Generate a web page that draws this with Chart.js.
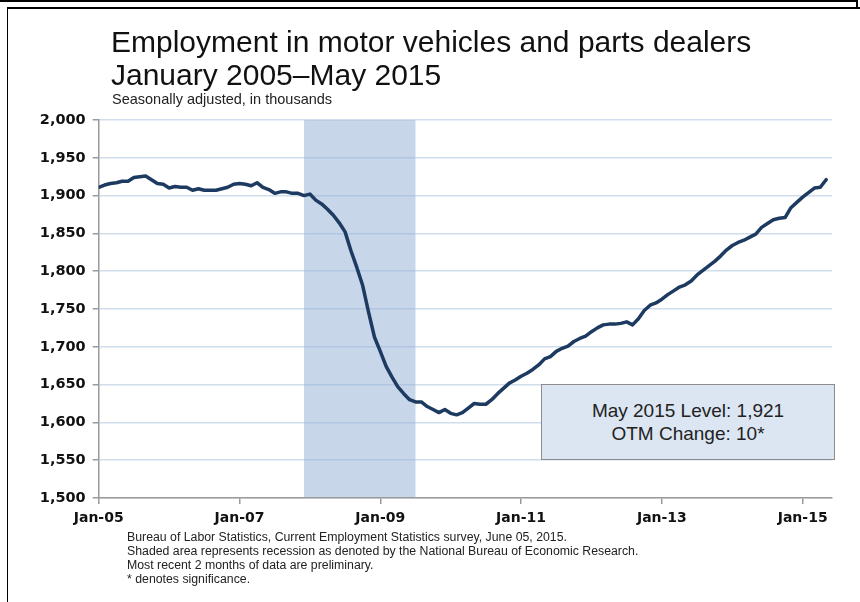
<!DOCTYPE html>
<html>
<head>
<meta charset="utf-8">
<script src="https://cdn.jsdelivr.net/npm/chart.js@4.4.1/dist/chart.umd.min.js"></script>
<style>
  html, body { margin: 0; padding: 0; background: #fff; }
  #wrap { position: relative; width: 860px; height: 602px; overflow: hidden; background: #fff; }
  canvas { position: absolute; left: 0; top: 0; }
  .t { position: absolute; white-space: nowrap; font-family: "Liberation Sans", Arial, sans-serif; color: #111; }
  #title1 { left: 111px; top: 27px; font-size: 30px; line-height: 30px; }
  #title2 { left: 111px; top: 60px; font-size: 30px; line-height: 30px; }
  #sub { left: 112px; top: 92px; font-size: 14.5px; line-height: 15px; color: #222; }
  .fn { left: 127px; font-size: 12.3px; line-height: 14px; color: #222; }
  #box { position: absolute; left: 541px; top: 384px; width: 294px; height: 76px; background: #dce6f2; border: 1px solid #8c8c8c; box-sizing: border-box;
         font-family: "Liberation Sans", Arial, sans-serif; font-size: 19px; color: #222; text-align: center; }
  #box div { position: absolute; left: 0; right: 0; }
  #frameTop1 { position: absolute; left: 0; top: 0; width: 858px; height: 2px; background: #000; }
  #frameTopR { position: absolute; left: 856px; top: 0; width: 2px; height: 8px; background: #000; }
  #frameTop2 { position: absolute; left: 7px; top: 7px; width: 853px; height: 2px; background: #000; }
  #frameLeft { position: absolute; left: 7px; top: 7px; width: 1px; height: 595px; background: #000; }
</style>
</head>
<body>
<div id="wrap">
  <canvas id="c" width="860" height="602"></canvas>
  <div id="frameTop1"></div><div id="frameTopR"></div><div id="frameTop2"></div><div id="frameLeft"></div>
  <div class="t" id="title1">Employment in motor vehicles and parts dealers</div>
  <div class="t" id="title2">January 2005–May 2015</div>
  <div class="t" id="sub">Seasonally adjusted, in thousands</div>
  <div id="box">
    <div style="top:15px;">May 2015 Level: 1,921</div>
    <div style="top:38px;">OTM Change: 10*</div>
  </div>
  <div class="t fn" style="top:530px;">Bureau of Labor Statistics, Current Employment Statistics survey, June 05, 2015.</div>
  <div class="t fn" style="top:544px;">Shaded area represents recession as denoted by the National Bureau of Economic Research.</div>
  <div class="t fn" style="top:558px;">Most recent 2 months of data are preliminary.</div>
  <div class="t fn" style="top:572px;">* denotes significance.</div>
</div>
<script>
// Months from Jan 2005 (index 0) to May 2015 (index 124)
const months = [];
const monNames = ['Jan','Feb','Mar','Apr','May','Jun','Jul','Aug','Sep','Oct','Nov','Dec'];
for (let y = 2005; y <= 2015; y++) {
  for (let m = 0; m < 12; m++) {
    if (y === 2015 && m > 4) break;
    months.push(monNames[m] + '-' + String(y).slice(2));
  }
}

// Employment, thousands
const employment2005 = [1911, 1914, 1916, 1917, 1919, 1919, 1924, 1925, 1926, 1921, 1916, 1915];
const employment2006 = [1910, 1912, 1911, 1911, 1907, 1909, 1907, 1907, 1907, 1909, 1911, 1915];
const employment2007 = [1916, 1915, 1913, 1917, 1911, 1908, 1903, 1905, 1905, 1903, 1903, 1900];
const employment2008 = [1902, 1894, 1889, 1882, 1874, 1864, 1852, 1827, 1805, 1781, 1746, 1713];
const employment2009 = [1694, 1674, 1660, 1647, 1638, 1630, 1627, 1627, 1621, 1617, 1613, 1617];
const employment2010 = [1612, 1610, 1613, 1619, 1625, 1624, 1624, 1630, 1638, 1645, 1652, 1656];
const employment2011 = [1661, 1665, 1670, 1676, 1684, 1687, 1694, 1698, 1701, 1707, 1711, 1714];
const employment2012 = [1720, 1725, 1729, 1730, 1730, 1731, 1733, 1729, 1737, 1748, 1755, 1758];
const employment2013 = [1763, 1769, 1774, 1779, 1782, 1787, 1795, 1801, 1807, 1813, 1820, 1828];
const employment2014 = [1834, 1838, 1841, 1845, 1849, 1858, 1863, 1868, 1870, 1871, 1884, 1891];
const employment2015 = [1898, 1904, 1910, 1911, 1921];

const employment = [].concat(employment2005, employment2006, employment2007, employment2008,
  employment2009, employment2010, employment2011, employment2012, employment2013,
  employment2014, employment2015);

const tickMonths = [0, 24, 48, 72, 96, 120];
const tickLabels = ['Jan-05', 'Jan-07', 'Jan-09', 'Jan-11', 'Jan-13', 'Jan-15'];
const yTicks = [1500, 1550, 1600, 1650, 1700, 1750, 1800, 1850, 1900, 1950, 2000];

// Recession: Dec 2007 through Jun 2009 (month indices)
const recessionStart = [35];
const recessionEnd = [54];

const recessionPlugin = {
  id: 'recession',
  beforeDraw(chart) {
    const { ctx, chartArea, scales } = chart;
    const x0 = scales.x.getPixelForValue(recessionStart[0]);
    const x1 = scales.x.getPixelForValue(recessionEnd[0]);
    ctx.save();
    ctx.fillStyle = '#c7d6e9';
    ctx.fillRect(x0, chartArea.top, x1 - x0, chartArea.bottom - chartArea.top);
    ctx.restore();
  }
};

new Chart(document.getElementById('c'), {
  type: 'line',
  data: {
    datasets: [{
      label: 'Employment',
      data: employment.map((v, i) => ({ x: i, y: v })),
      borderColor: '#1d3a60',
      borderWidth: 3.5,
      pointRadius: 0,
      tension: 0,
      borderJoinStyle: 'round',
      borderCapStyle: 'round',
      fill: false
    }]
  },
  options: {
    responsive: false,
    animation: false,
    devicePixelRatio: 1,
    layout: { padding: { left: 0, top: 120, right: 28, bottom: 0 } },
    plugins: { legend: { display: false }, tooltip: { enabled: false }, title: { display: false } },
    scales: {
      x: {
        type: 'linear',
        min: 0,
        max: 125,
        afterFit(scale) { scale.height = 104; },
        afterBuildTicks(scale) { scale.ticks = tickMonths.map(v => ({ value: v })); },
        grid: { drawOnChartArea: false, drawTicks: true, tickLength: 6, color: '#9a9a9a', lineWidth: 1.5 },
        border: { display: true, color: '#9a9a9a', width: 1.5 },
        ticks: {
          autoSkip: false,
          maxRotation: 0,
          padding: 6,
          color: '#111',
          font: { family: 'DejaVu Sans', size: 14, weight: 'bold' },
          callback(v) { const k = tickMonths.indexOf(v); return k >= 0 ? tickLabels[k] : ''; }
        }
      },
      y: {
        min: 1500,
        max: 2000,
        afterFit(scale) { scale.width = 98.7; },
        afterBuildTicks(scale) { scale.ticks = yTicks.map(v => ({ value: v })); },
        grid: { color: 'rgba(150,180,215,0.45)', lineWidth: 1.5, tickLength: 6, tickColor: '#9a9a9a', drawTicks: true },
        border: { display: true, color: '#9a9a9a', width: 1.5 },
        ticks: {
          padding: 7,
          color: '#111',
          font: { family: 'DejaVu Sans', size: 14.5, weight: 'bold' },
          callback(v) { return v.toLocaleString('en-US'); }
        }
      }
    }
  },
  plugins: [recessionPlugin]
});
</script>
</body>
</html>
